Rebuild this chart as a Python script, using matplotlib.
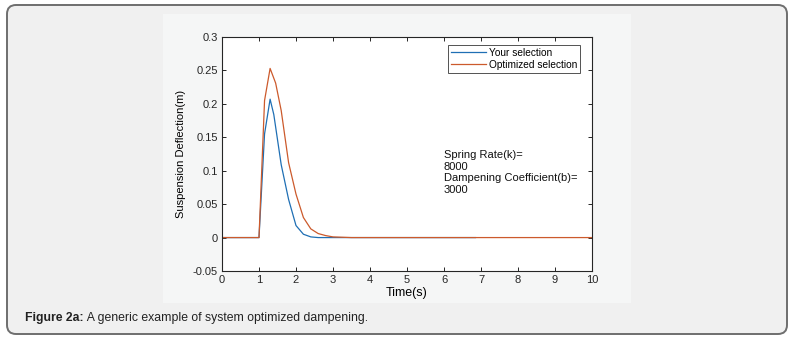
import matplotlib.pyplot as plt
from matplotlib.patches import FancyBboxPatch, Rectangle

# time samples (s) and deflection (m)
t_your = [0, 1.0, 1.15, 1.3, 1.4, 1.6, 1.8, 2.0, 2.2, 2.4, 2.6, 3.0, 4.0, 6.85]
y_your = [0, 0, 0.155, 0.207, 0.184, 0.109, 0.057, 0.018, 0.005, 0.001, 0.0, 0.0, 0.0, 0.0]

t_opt = [0, 1.0, 1.15, 1.3, 1.45, 1.6, 1.8, 2.0, 2.2, 2.4, 2.6, 2.8, 3.0, 3.5, 10]
y_opt = [0, 0, 0.205, 0.253, 0.231, 0.19, 0.112, 0.065, 0.03, 0.013, 0.006, 0.003, 0.001, 0.0, 0.0]

x_ticks = list(range(0, 11))
y_ticks = [-0.05, 0, 0.05, 0.1, 0.15, 0.2, 0.25, 0.3]
y_ticklabels = ['-0.05', '0', '0.05', '0.1', '0.15', '0.2', '0.25', '0.3']

legend_labels = ['Your selection', 'Optimized selection']
note = 'Spring Rate(k)=\n8000\nDampening Coefficient(b)=\n3000'
caption_bold = 'Figure 2a:'
caption_text = ' A generic example of system optimized dampening.'

plt.rcParams['font.family'] = ['Liberation Sans', 'DejaVu Sans']

W, H = 799, 339
fig = plt.figure(figsize=(W / 100, H / 100), dpi=100)
fig.patch.set_facecolor('white')

# outer rounded panel
bg = fig.add_axes([0, 0, 1, 1])
bg.set_xlim(0, W)
bg.set_ylim(H, 0)
bg.axis('off')
bg.add_patch(FancyBboxPatch((7, 5), 780, 329, boxstyle='round,pad=0,rounding_size=9',
                            facecolor='#f0f0f0', edgecolor='#6e6e6e', linewidth=1.4))
# matlab figure area
bg.add_patch(Rectangle((163, 14), 468, 289, facecolor='#f5f6f6', edgecolor='none'))

cap1 = bg.text(25, 318, caption_bold, fontsize=8.8, fontweight='bold', va='center',
               color='#222222')
fig.canvas.draw()
ext = cap1.get_window_extent()
x_after = ext.x1  # pixels, same as bg data x since bg spans the figure
bg.text(x_after, 318, caption_text, fontsize=8.8, va='center', color='#222222')

ax = fig.add_axes([222 / W, 1 - 271 / H, 370 / W, 234 / H])
ax.set_facecolor('white')
ax.plot(t_your, y_your, color='#1f6fb4', linewidth=0.9, label=legend_labels[0])
ax.plot(t_opt, y_opt, color='#cc5a2c', linewidth=0.9, label=legend_labels[1])

ax.set_xlim(0, 10)
ax.set_ylim(-0.05, 0.3)
ax.set_xticks(x_ticks)
ax.set_yticks(y_ticks)
ax.set_yticklabels(y_ticklabels)
ax.tick_params(direction='in', length=3, width=0.7, labelsize=8, colors='#262626',
               top=True, right=True, pad=3)
for s in ax.spines.values():
    s.set_color('#262626')
    s.set_linewidth(0.8)

ax.set_xlabel('Time(s)', fontsize=9, labelpad=1)
ax.set_ylabel('Suspension Deflection(m)', fontsize=8, labelpad=5)

leg = ax.legend(loc='upper right', bbox_to_anchor=(0.968, 0.966), fontsize=7.3,
                frameon=True, fancybox=False, handlelength=3.4, handletextpad=0.3,
                borderpad=0.3, labelspacing=0.2, borderaxespad=0)
leg.get_frame().set_edgecolor('#262626')
leg.get_frame().set_linewidth(0.7)

ax.text(6.0, 0.131, note, fontsize=8, va='top', ha='left', linespacing=1.2,
        color='#111111')

fig.savefig('out.png', dpi=100)
